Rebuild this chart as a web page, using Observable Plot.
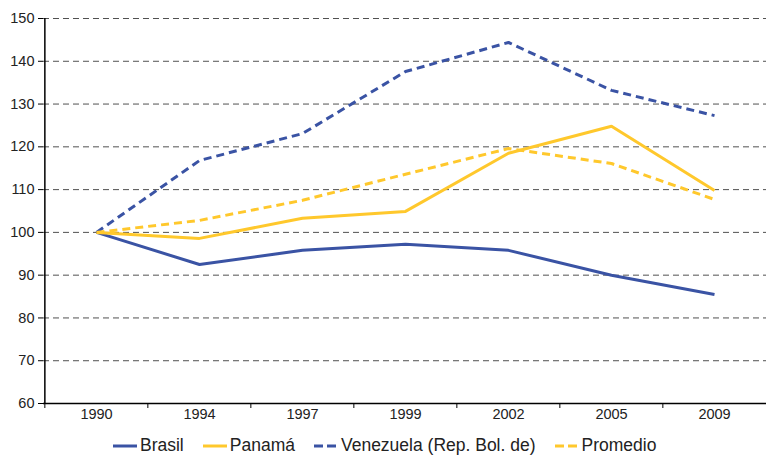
<!DOCTYPE html>
<html>
<head>
<meta charset="utf-8">
<script src="https://cdn.jsdelivr.net/npm/d3@7"></script>
<script src="https://cdn.jsdelivr.net/npm/@observablehq/plot@0.6"></script>
<style>
  html, body { margin: 0; padding: 0; background: #fff; }
  body { width: 766px; height: 456px; overflow: hidden; font-family: "Liberation Sans", Arial, sans-serif; }
  #chart svg text { font-size: 14.5px !important; font-family: "Liberation Sans", Arial, sans-serif !important; fill: #222; }
  #legend { display: flex; align-items: center; padding-left: 113px; padding-top: 3px; height: 21px; font-size: 17.5px; color: #222; }
  .item { display: flex; align-items: center; margin-right: 19px; }
  .item svg { margin-right: 3px; }
</style>
</head>
<body>
<div id="chart"></div>
<div id="legend"></div>
<script>
const years = ["1990", "1994", "1997", "1999", "2002", "2005", "2009"];
const brasil    = [100, 92.5, 95.8, 97.2, 95.8, 90.0, 85.5];
const panama    = [100, 98.6, 103.3, 104.9, 118.5, 124.8, 109.8];
const venezuela = [100, 116.8, 123.1, 137.6, 144.4, 133.2, 127.3];
const promedio  = [100, 102.8, 107.5, 113.6, 119.6, 116.1, 107.7];
const yTicks = [60, 70, 80, 90, 100, 110, 120, 130, 140, 150];

const seriesDefs = [
  {name: "Brasil", values: brasil, color: "#3A53A4", dash: null},
  {name: "Panamá", values: panama, color: "#FFC82C", dash: null},
  {name: "Venezuela (Rep. Bol. de)", values: venezuela, color: "#3A53A4", dash: "8,5"},
  {name: "Promedio", values: promedio, color: "#FFC82C", dash: "8,5"}
];

const W = 766, H = 432, mL = 43, mR = 0, mT = 18, mB = 29;
const step = (W - mL - mR) / years.length;

const lineMarks = seriesDefs.map(s =>
  Plot.line(years.map((y, i) => ({year: y, value: s.values[i]})), {
    x: "year", y: "value", stroke: s.color, strokeWidth: 3,
    strokeDasharray: s.dash, strokeLinejoin: "miter", strokeLinecap: "butt"
  })
);

const chart = Plot.plot({
  width: W, height: H,
  marginLeft: mL, marginRight: mR, marginTop: mT, marginBottom: mB,
  style: {fontFamily: "Liberation Sans, Arial, sans-serif", fontSize: "14.5px", color: "#222", background: "#fff"},
  x: {type: "point", domain: years, padding: 0.5, label: null},
  y: {domain: [60, 150], label: null},
  marks: [
    Plot.gridY(yTicks, {stroke: "#333", strokeOpacity: 0.85, strokeDasharray: "6,4", strokeWidth: 1}),
    ...lineMarks,
    Plot.axisY(yTicks, {tickSize: 5, tickPadding: 4, stroke: "#000", strokeOpacity: 1, label: null}),
    Plot.axisX(years, {tickSize: 0, tickPadding: 5, label: null}),
    Plot.axisX(years, {tickSize: 5, tickFormat: () => "", dx: -step / 2, stroke: "#000", strokeOpacity: 1, label: null}),
    Plot.ruleX([0], {x: () => years[0], dx: -step / 2, stroke: "#000", strokeWidth: 1.5}),
    Plot.ruleY([60], {stroke: "#000", strokeWidth: 1.5})
  ]
});
document.getElementById("chart").appendChild(chart);

const legend = document.getElementById("legend");
seriesDefs.forEach(s => {
  const item = document.createElement("div");
  item.className = "item";
  item.innerHTML = `<svg width="24" height="10"><line x1="0" y1="5" x2="24" y2="5" stroke="${s.color}" stroke-width="3" ${s.dash ? 'stroke-dasharray="9,4"' : ''}/></svg><span>${s.name}</span>`;
  legend.appendChild(item);
});
</script>
</body>
</html>
